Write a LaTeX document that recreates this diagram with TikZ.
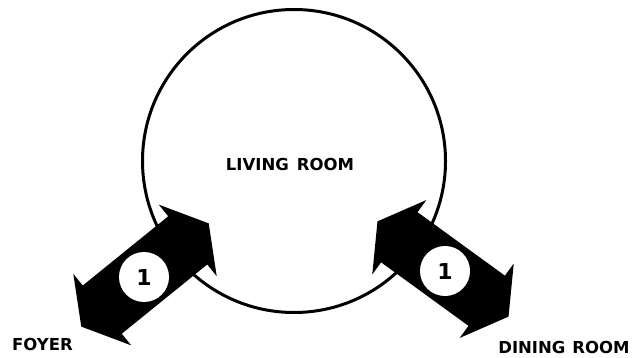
\documentclass[tikz,border=0pt]{standalone}
\usepackage{fontspec}
\setmainfont{DejaVu Sans}
\begin{document}
\begin{tikzpicture}[x=1pt,y=-1pt,
  roomcircle/.style={circle,draw=black,line width=3pt,minimum size=303pt,inner sep=0pt},
  label/.style={font=\bfseries\fontsize{16.5}{16.5}\selectfont,inner sep=0pt,text=black},
  numdisc/.style={circle,fill=white,minimum size=50pt,inner sep=0pt,font=\bfseries\fontsize{22}{22}\selectfont},
  blockarrow/.style={fill=black}]
\fill[white] (0,0) rectangle (642,358);
\useasboundingbox (0,0) rectangle (642,358);
% living room
\node[roomcircle] (room) at (294,161) {};
\node[label] (roomlabel) at (290,164) {LIVING\hspace{8pt}ROOM};
% foyer arrow
\begin{scope}[shift={(145,275)},rotate=39]
  \fill[blockarrow] (-82,0) -- (-55,46) -- (-55,31) -- (55,31) -- (55,46) -- (82,0)
     -- (55,-46) -- (55,-31) -- (-55,-31) -- (-55,-46) -- cycle;
\end{scope}
\node[numdisc] (n1) at (144,277) {1};
% dining arrow
\begin{scope}[shift={(443,269)},rotate=-36]
  \fill[blockarrow] (-81,0) -- (-54,46) -- (-54,31) -- (54,31) -- (54,46) -- (81,0)
     -- (54,-46) -- (54,-31) -- (-54,-31) -- (-54,-46) -- cycle;
\end{scope}
\node[numdisc] (n2) at (445,271) {1};
% labels
\node[label] (foyer) at (42.5,344) {FOYER};
\node[label] (dining) at (564,347.5) {DINING\hspace{7pt}ROOM};
\end{tikzpicture}
\end{document}
